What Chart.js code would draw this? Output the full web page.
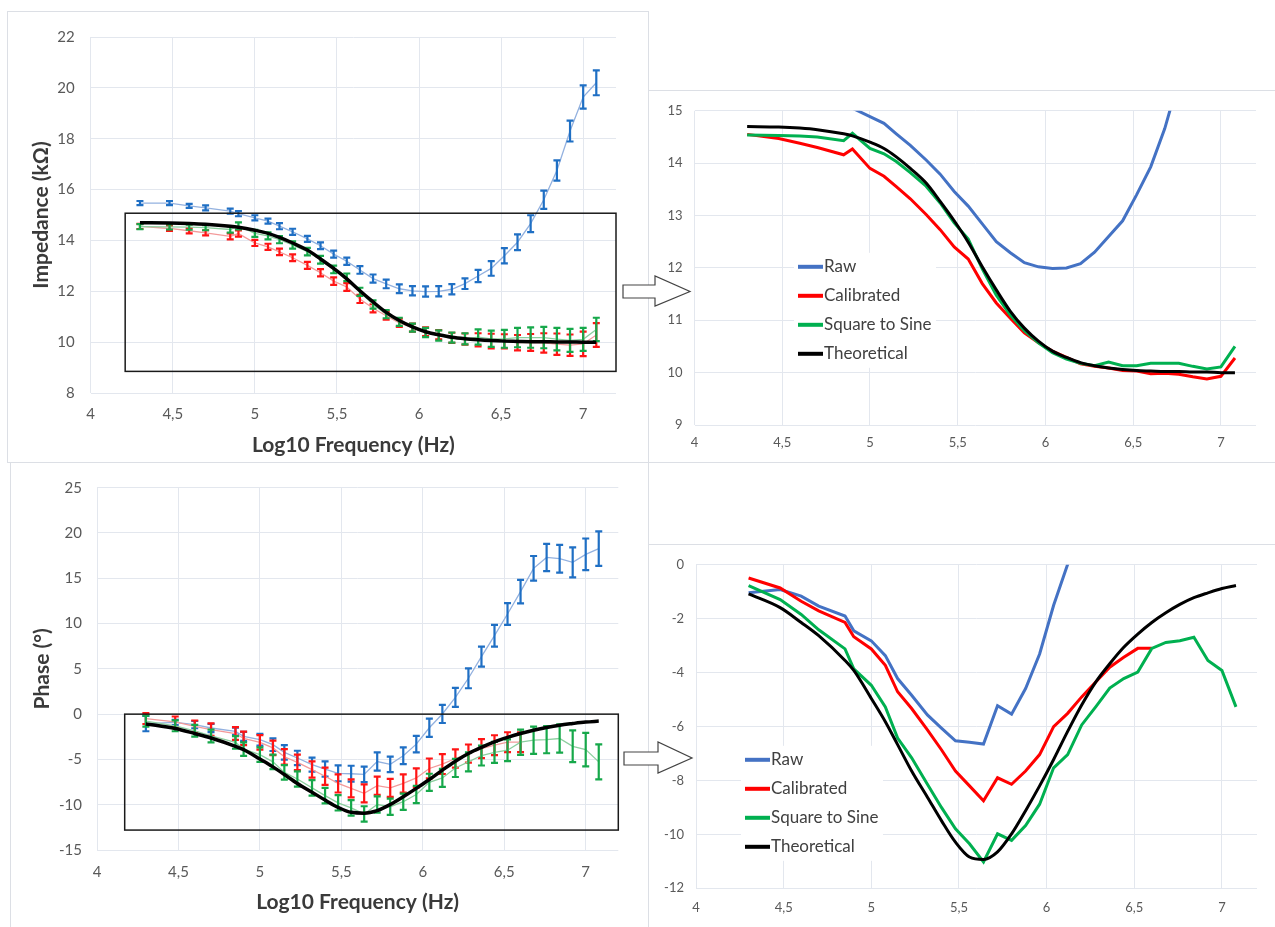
<!DOCTYPE html>
<html>
<head>
<meta charset="utf-8">
<script src="https://cdn.jsdelivr.net/npm/chart.js@4.4.0/dist/chart.umd.min.js"></script>
<style>
  html, body { margin: 0; padding: 0; background: #fff; }
  #fig { position: relative; width: 1275px; height: 927px; overflow: hidden; background: #fff; }
  .panel { position: absolute; border: 1px solid #dcdfe5; box-sizing: border-box; }
  canvas { position: absolute; }
  svg { position: absolute; left: 0; top: 0; }
</style>
</head>
<body>
<div id="fig">
  <div class="panel" style="left:7px;top:11px;width:642px;height:452px"></div>
  <div class="panel" style="left:648px;top:90px;width:640px;height:373px"></div>
  <div class="panel" style="left:10px;top:462px;width:639px;height:480px"></div>
  <div class="panel" style="left:648px;top:544px;width:640px;height:400px"></div>

  <canvas id="impErr" style="left:8px;top:12px" width="639" height="449"></canvas>
  <canvas id="impZoom" style="left:649px;top:91px" width="626" height="370"></canvas>
  <canvas id="phErr" style="left:11px;top:463px" width="637" height="464"></canvas>
  <canvas id="phZoom" style="left:649px;top:545px" width="626" height="382"></canvas>

  <svg width="1275" height="927">
    <polygon points="623,285 655,285 655,276 690,291.5 655,306 655,298 623,298" fill="#fff" stroke="#444" stroke-width="1.2"/>
    <polygon points="624,752 658,752 658,742 692,758 658,773 658,765 624,765" fill="#fff" stroke="#444" stroke-width="1.2"/>
  </svg>
</div>

<script>
// log10 of the measured frequencies (Hz)
const logFreq = [4.30, 4.48, 4.60, 4.70, 4.85, 4.90, 5.00, 5.08, 5.15, 5.23, 5.32, 5.40, 5.48, 5.56, 5.64, 5.72, 5.80,
                 5.88, 5.96, 6.04, 6.12, 6.20, 6.28, 6.36, 6.44, 6.52, 6.60, 6.68, 6.76, 6.84, 6.92, 7.00, 7.08];
const seriesNames = ['Raw', 'Calibrated', 'Square to Sine', 'Theoretical'];

// impedance (kOhm)
const impRaw = [15.47, 15.47, 15.36, 15.28, 15.15, 15.05, 14.89, 14.76, 14.56, 14.34, 14.06, 13.79, 13.46, 13.18, 12.84, 12.5,
                12.29, 12.1, 12.02, 11.99, 12.0, 12.08, 12.3, 12.6, 12.9, 13.4, 13.93, 14.66, 15.6, 16.75, 18.3, 19.64, 20.2];
const impCal = [14.55, 14.47, 14.38, 14.3, 14.16, 14.27, 13.9, 13.75, 13.55, 13.32, 13.02, 12.73, 12.4, 12.17, 11.7, 11.33,
                11.04, 10.76, 10.57, 10.41, 10.29, 10.17, 10.12, 10.09, 10.04, 10.03, 9.98, 9.99, 9.97, 9.92, 9.88, 9.93, 10.28];
const impSq = [14.54, 14.53, 14.52, 14.5, 14.43, 14.57, 14.28, 14.18, 14.03, 13.82, 13.56, 13.24, 12.86, 12.55, 11.98, 11.48,
               11.1, 10.8, 10.57, 10.38, 10.26, 10.18, 10.13, 10.2, 10.13, 10.13, 10.18, 10.18, 10.18, 10.12, 10.07, 10.11, 10.5];
const impTheo = [14.7, 14.69, 14.67, 14.64, 14.56, 14.52, 14.4, 14.28, 14.12, 13.9, 13.62, 13.27, 12.9, 12.49, 12.02, 11.58,
                 11.17, 10.85, 10.6, 10.41, 10.29, 10.19, 10.13, 10.09, 10.06, 10.04, 10.03, 10.02, 10.02, 10.01, 10.01, 10.0, 10.0];
const impRawErr = [0.08, 0.08, 0.08, 0.1, 0.1, 0.1, 0.1, 0.1, 0.12, 0.12, 0.12, 0.13, 0.14, 0.14, 0.15, 0.16, 0.17,
                   0.17, 0.18, 0.2, 0.2, 0.2, 0.21, 0.24, 0.29, 0.3, 0.31, 0.33, 0.36, 0.4, 0.41, 0.46, 0.49];
const impCalErr = [0.1, 0.1, 0.1, 0.1, 0.12, 0.12, 0.12, 0.12, 0.13, 0.13, 0.14, 0.14, 0.15, 0.15, 0.16, 0.16, 0.16,
                   0.16, 0.16, 0.17, 0.18, 0.2, 0.22, 0.26, 0.29, 0.28, 0.3, 0.33, 0.38, 0.42, 0.42, 0.48, 0.47];
const impSqErr = [0.1, 0.1, 0.1, 0.1, 0.12, 0.14, 0.14, 0.14, 0.14, 0.14, 0.15, 0.15, 0.15, 0.15, 0.16, 0.16, 0.16,
                  0.16, 0.16, 0.18, 0.2, 0.2, 0.22, 0.3, 0.32, 0.35, 0.38, 0.4, 0.42, 0.44, 0.45, 0.45, 0.46];

// phase (degrees)
const phRaw = [-1.04, -0.92, -1.16, -1.53, -1.9, -2.45, -2.82, -3.37, -4.22, -4.84, -5.57, -6.06, -6.53, -6.58, -6.65, -5.23,
               -5.54, -4.59, -3.31, -1.5, 0.02, 1.86, 3.96, 6.35, 8.66, 11.06, 13.52, 16.1, 17.3, 17.16, 16.76, 17.64, 18.27];
const phCal = [-0.49, -0.86, -1.35, -1.71, -2.14, -2.67, -3.12, -3.73, -4.71, -5.33, -6.12, -6.86, -7.65, -8.2, -8.75, -7.9,
               -8.14, -7.65, -7.04, -6.0, -5.51, -4.9, -4.35, -3.8, -3.43, -3.1, -3.1, null, null, null, null, null, null];
const phSq = [-0.77, -1.29, -1.84, -2.41, -3.12, -3.86, -4.47, -5.27, -6.43, -7.16, -8.14, -9.0, -9.79, -10.35, -11.02, -9.98,
              -10.22, -9.67, -8.88, -7.53, -7.04, -5.94, -5.27, -4.57, -4.22, -3.98, -3.1, -2.88, -2.82, -2.69, -3.55, -3.92, -5.27];
const phTheo = [-1.08, -1.59, -2.14, -2.63, -3.55, -3.92, -4.96, -5.82, -6.67, -7.65, -8.62, -9.49, -10.29, -10.84, -10.93, -10.65,
                -9.98, -9.12, -8.2, -7.22, -6.18, -5.2, -4.35, -3.67, -3.06, -2.57, -2.14, -1.78, -1.47, -1.22, -1.04, -0.88, -0.77];
const phRawErr = [0.85, 0.3, 0.4, 0.46, 0.4, 0.5, 0.65, 0.7, 0.8, 0.8, 0.77, 0.85, 0.88, 0.88, 0.85, 1.0, 0.86,
                  0.92, 0.92, 1.0, 1.0, 1.05, 1.1, 1.1, 1.2, 1.2, 1.3, 1.36, 1.5, 1.53, 1.66, 1.75, 1.9];
const phCalErr = [0.6, 0.6, 0.65, 0.7, 0.7, 0.75, 0.8, 0.8, 0.85, 0.85, 0.9, 0.95, 1.0, 1.0, 1.0, 1.0, 1.0,
                  1.0, 1.05, 1.1, 1.1, 1.0, 1.0, 1.05, 1.1, 1.1, 1.1, null, null, null, null, null, null];
const phSqErr = [0.6, 0.6, 0.65, 0.7, 0.7, 0.75, 0.8, 0.8, 0.8, 0.85, 0.85, 0.85, 0.85, 0.85, 0.85, 0.9, 0.9,
                 0.9, 0.95, 0.95, 1.0, 1.0, 1.05, 1.1, 1.15, 1.2, 1.4, 1.5, 1.5, 1.55, 1.75, 1.85, 1.93];

const xTicks = [4, 4.5, 5, 5.5, 6, 6.5, 7];
const impTicks = [8, 10, 12, 14, 16, 18, 20, 22];
const impZoomTicks = [9, 10, 11, 12, 13, 14, 15];
const phTicks = [-15, -10, -5, 0, 5, 10, 15, 20, 25];
const phZoomTicks = [-12, -10, -8, -6, -4, -2, 0];

const GRID = '#e3e7ee';
const TICK = '#595959';
const TITLE = '#3a3a3a';
const FONT = 'Lato';
Chart.defaults.font.family = FONT;

const fmt = v => String(v).replace('.', ',');
const pts = vals => vals.map((v, i) => ({x: logFreq[i], y: v}));

// vertical error bars with caps, drawn right after their own line
const errorBars = {
  id: 'errorBars',
  afterDatasetDraw(chart, args) {
    const ds = chart.data.datasets[args.index];
    if (!ds.err) return;
    const {ctx, scales: {x, y}} = chart;
    ctx.save();
    ctx.strokeStyle = ds.errColor;
    ctx.lineWidth = 2.2;
    ds.data.forEach((p, i) => {
      if (p.y == null || ds.err[i] == null) return;
      const px = x.getPixelForValue(p.x);
      const hi = y.getPixelForValue(p.y + ds.err[i]);
      const lo = y.getPixelForValue(p.y - ds.err[i]);
      ctx.beginPath();
      ctx.moveTo(px, hi); ctx.lineTo(px, lo);
      ctx.moveTo(px - 3.5, hi); ctx.lineTo(px + 3.5, hi);
      ctx.moveTo(px - 3.5, lo); ctx.lineTo(px + 3.5, lo);
      ctx.stroke();
    });
    ctx.restore();
  }
};

// black frame marking the zoomed region
const zoomBox = {
  id: 'zoomBox',
  afterDatasetsDraw(chart, args, o) {
    if (!o.show) return;
    const {ctx, scales: {x, y}} = chart;
    const l = x.getPixelForValue(o.x0), r = x.getPixelForValue(o.x1);
    const t = y.getPixelForValue(o.y1), b = y.getPixelForValue(o.y0);
    ctx.save();
    ctx.strokeStyle = '#1a1a1a';
    ctx.lineWidth = 1.5;
    ctx.strokeRect(l, t, r - l, b - t);
    ctx.restore();
  }
};

// legend placed inside the plot area
const innerLegend = {
  id: 'innerLegend',
  afterDraw(chart, args, o) {
    if (!o.show) return;
    const {ctx, chartArea: a} = chart;
    const x0 = a.left + o.dx, y0 = a.top + o.dy;
    ctx.save();
    ctx.fillStyle = '#fff';
    ctx.fillRect(x0 - 4, y0 - 14, 142, o.row * 3 + 28);
    ctx.font = '17px ' + FONT;
    ctx.textBaseline = 'middle';
    chart.data.datasets.forEach((ds, i) => {
      const yy = y0 + i * o.row;
      ctx.strokeStyle = ds.borderColor;
      ctx.lineWidth = 4;
      ctx.beginPath(); ctx.moveTo(x0, yy); ctx.lineTo(x0 + 25, yy); ctx.stroke();
      ctx.fillStyle = '#404040';
      ctx.fillText(ds.label, x0 + 26, yy);
    });
    ctx.restore();
  }
};

function errSets(raw, cal, sq, theo, rawErr, calErr, sqErr) {
  return [
    {label: seriesNames[0], data: pts(raw), err: rawErr, errColor: '#1f6fc4', borderColor: '#93b1df', borderWidth: 1.3, order: 3},
    {label: seriesNames[1], data: pts(cal), err: calErr, errColor: '#ff1414', borderColor: '#f39a9a', borderWidth: 1.3, order: 2},
    {label: seriesNames[2], data: pts(sq), err: sqErr, errColor: '#16a84a', borderColor: '#8ccf9f', borderWidth: 1.3, order: 1},
    {label: seriesNames[3], data: pts(theo), borderColor: '#000', borderWidth: 3.5, cubicInterpolationMode: 'monotone', order: 0}
  ];
}

function zoomSets(raw, cal, sq, theo) {
  return [
    {label: seriesNames[0], data: pts(raw), borderColor: '#4472c4', borderWidth: 3, order: 3},
    {label: seriesNames[1], data: pts(cal), borderColor: '#ff0000', borderWidth: 3, order: 2},
    {label: seriesNames[2], data: pts(sq), borderColor: '#00b050', borderWidth: 3, order: 1},
    {label: seriesNames[3], data: pts(theo), borderColor: '#000', borderWidth: 3, cubicInterpolationMode: 'monotone', order: 0}
  ];
}

function makeChart(id, c) {
  const titleFont = {family: FONT, size: 21, weight: 'bold'};
  return new Chart(document.getElementById(id), {
    type: 'line',
    data: {datasets: c.datasets},
    options: {
      responsive: false,
      animation: false,
      layout: {padding: c.pad},
      elements: {point: {radius: 0}},
      plugins: {
        legend: {display: false},
        tooltip: {enabled: false},
        zoomBox: c.box || {show: false},
        innerLegend: c.legend || {show: false}
      },
      scales: {
        x: {
          type: 'linear', min: 4, max: 7.2,
          afterBuildTicks: s => { s.ticks = xTicks.map(v => ({value: v})); },
          afterFit: s => { s.height = c.xH; },
          grid: {color: GRID, drawTicks: false},
          border: {display: false},
          ticks: {padding: c.xPad, color: TICK, font: {size: c.fs}, autoSkip: false, maxRotation: 0, callback: fmt},
          title: c.xTitle
            ? {display: true, text: c.xTitle, color: TITLE, font: titleFont, padding: {top: 0, bottom: c.xTitlePad}}
            : {display: false}
        },
        y: {
          type: 'linear', min: c.yTicks[0], max: c.yTicks[c.yTicks.length - 1],
          afterBuildTicks: s => { s.ticks = c.yTicks.map(v => ({value: v})); },
          afterFit: s => { s.width = c.yW; },
          grid: {color: GRID, drawTicks: false},
          border: {display: false},
          ticks: {padding: c.yPad, color: TICK, font: {size: c.fs}, callback: fmt},
          title: c.yTitle
            ? {display: true, text: c.yTitle, color: TITLE, font: titleFont, padding: {top: c.yTitlePad, bottom: 0}}
            : {display: false}
        }
      }
    },
    plugins: [errorBars, zoomBox, innerLegend]
  });
}

makeChart('impErr', {
  datasets: errSets(impRaw, impCal, impSq, impTheo, impRawErr, impCalErr, impSqErr),
  yTicks: impTicks,
  pad: {left: 0, top: 22.7, right: 31, bottom: 0},
  yW: 82.7, xH: 68, fs: 15, xPad: 12, yPad: 16,
  xTitle: 'Log10 Frequency (Hz)', xTitlePad: 3.4,
  yTitle: 'Impedance (kΩ)', yTitlePad: 20.4,
  box: {show: true, x0: 4.21, x1: 7.2, y0: 8.85, y1: 15.07}
});

makeChart('impZoom', {
  datasets: zoomSets(impRaw, impCal, impSq, impTheo),
  yTicks: impZoomTicks,
  pad: {left: 0, top: 15.7, right: 19, bottom: 0},
  yW: 45.5, xH: 36, fs: 13, xPad: 10, yPad: 12,
  legend: {show: true, dx: 103.5, dy: 156, row: 29}
});

makeChart('phErr', {
  datasets: errSets(phRaw, phCal, phSq, phTheo, phRawErr, phCalErr, phSqErr),
  yTicks: phTicks,
  pad: {left: 0, top: 24.7, right: 29.7, bottom: 0},
  yW: 86, xH: 77, fs: 15, xPad: 13.5, yPad: 15,
  xTitle: 'Log10 Frequency (Hz)', xTitlePad: 11.7,
  yTitle: 'Phase (°)', yTitlePad: 18.4,
  box: {show: true, x0: 4.17, x1: 7.2, y0: -12.8, y1: 0}
});

makeChart('phZoom', {
  datasets: zoomSets(phRaw, phCal, phSq, phTheo),
  yTicks: phZoomTicks,
  pad: {left: 0, top: 16.7, right: 18, bottom: 0},
  yW: 47, xH: 38.7, fs: 13, xPad: 11.5, yPad: 12,
  legend: {show: true, dx: 49, dy: 195, row: 29}
});
</script>
</body>
</html>
